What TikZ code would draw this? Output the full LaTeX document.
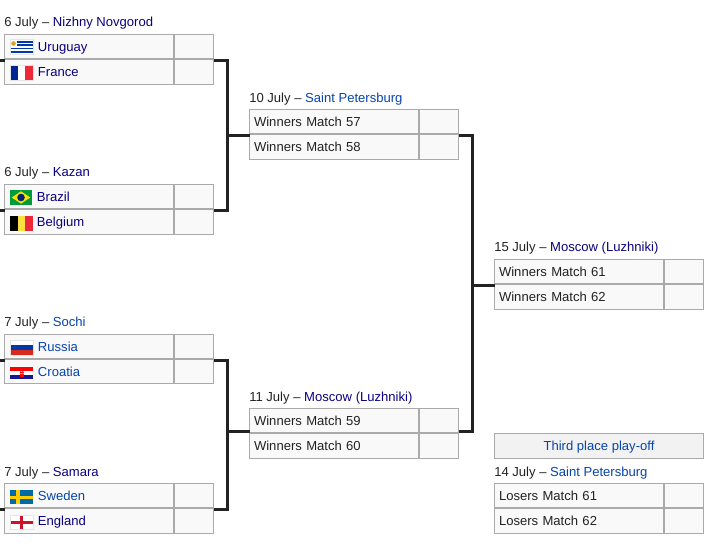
\documentclass[tikz,border=0pt]{standalone}
\usepackage{fontspec}
\setmainfont{Liberation Sans}
\definecolor{vis}{HTML}{0B0080}
\definecolor{lnk}{HTML}{0645AD}
\definecolor{ink}{HTML}{222222}
\definecolor{edge}{HTML}{AAAAAA}
\definecolor{cellbg}{HTML}{F9F9F9}
\definecolor{frblue}{HTML}{002395}
\definecolor{frred}{HTML}{ED2939}
\definecolor{uyblue}{HTML}{0038A8}
\definecolor{uysun}{HTML}{D9A520}
\definecolor{brgreen}{HTML}{009B3A}
\definecolor{bryellow}{HTML}{FEDF00}
\definecolor{brblue}{HTML}{002776}
\definecolor{beyellow}{HTML}{FAE042}
\definecolor{rublue}{HTML}{0039A6}
\definecolor{rured}{HTML}{D52B1E}
\definecolor{hrred}{HTML}{FF0000}
\definecolor{hrblue}{HTML}{171796}
\definecolor{seblue}{HTML}{006AA7}
\definecolor{seyellow}{HTML}{FECC00}
\definecolor{enred}{HTML}{CE1124}
\tikzset{
  cell/.style={draw=edge,line width=0.75pt,fill=#1,anchor=north west,outer sep=0pt,inner xsep=0pt,inner ysep=0pt,text=ink,
    text height=9.5pt,text depth=2.5pt,align=left,font=\fontsize{9.8}{12}\selectfont},
  cell/.default={white},
  datelabel/.style={anchor=base west,inner sep=0pt,text=ink,font=\fontsize{9.8}{12}\selectfont},
  bracket/.style={draw=ink,line width=2.5pt},
  flagedge/.style={draw=black!10,line width=0.75pt}
}
\newlength{\pxu}
% id, x, ytop, ymid, ybot, text offset, top text, bottom text
\newcommand{\matchrows}[8]{%
  \pgfmathsetmacro{\hA}{(#4-#3-1)*0.75}%
  \pgfmathsetmacro{\hB}{(#5-#4)*0.75}%
  \node[cell=cellbg,minimum width=126.75pt,minimum height=\hA pt,text width=126.75pt] (#1a) at (#2+0.5,#3+0.5) {\hspace*{#6\pxu}#7};
  \node[cell=cellbg,minimum width=29.25pt,minimum height=\hA pt] (#1as) at (#2+170.5,#3+0.5) {};
  \node[cell=cellbg,minimum width=126.75pt,minimum height=\hB pt,text width=126.75pt] (#1b) at (#2+0.5,#4+0.5) {\hspace*{#6\pxu}#8};
  \node[cell=cellbg,minimum width=29.25pt,minimum height=\hB pt] (#1bs) at (#2+170.5,#4+0.5) {};
  \coordinate (#1r) at ([yshift=-0.75pt]#1bs.north east);
  \coordinate (#1l) at ([yshift=-0.75pt]#1b.north west);
}
\begin{document}
\begin{tikzpicture}[x=0.75pt,y=-0.75pt]
\setlength{\pxu}{0.75pt}
\useasboundingbox[fill=white] (0,0) rectangle (711,560);
% date labels
\node[datelabel] (d1) at (4,26.5) {6 July – \textcolor{vis}{Nizhny Novgorod}};
\node[datelabel] (d2) at (4,176) {6 July – \textcolor{vis}{Kazan}};
\node[datelabel] (d3) at (4,326) {7 July – \textcolor{lnk}{Sochi}};
\node[datelabel] (d4) at (4,476) {7 July – \textcolor{vis}{Samara}};
\node[datelabel] (d5) at (249,102.5) {10 July – \textcolor{lnk}{Saint Petersburg}};
\node[datelabel] (d6) at (249,401) {11 July – \textcolor{vis}{Moscow (Luzhniki)}};
\node[datelabel] (d7) at (494,251) {15 July – \textcolor{vis}{Moscow (Luzhniki)}};
\node[datelabel] (d8) at (494,476) {14 July – \textcolor{lnk}{Saint Petersburg}};
% match tables
\matchrows{qa}{4}{34}{59}{84}{33.5}{\textcolor{vis}{Uruguay}}{\textcolor{vis}{France}}
\matchrows{qb}{4}{184}{209}{234}{32.5}{\textcolor{vis}{Brazil}}{\textcolor{vis}{Belgium}}
\matchrows{qc}{4}{334}{359}{383}{33.5}{\textcolor{lnk}{Russia}}{\textcolor{lnk}{Croatia}}
\matchrows{qd}{4}{483}{508}{533}{33.5}{\textcolor{lnk}{Sweden}}{\textcolor{vis}{England}}
\matchrows{sa}{249}{109}{134}{159}{4.5}{Winners Match 57}{Winners Match 58}
\matchrows{sb}{249}{408}{433}{458}{4.5}{Winners Match 59}{Winners Match 60}
\matchrows{fi}{494}{259}{284}{309}{4.5}{Winners Match 61}{Winners Match 62}
\matchrows{lo}{494}{483}{508}{533}{4.5}{Losers Match 61}{Losers Match 62}
\node[cell=black!5,minimum width=156.75pt,minimum height=18.75pt,align=center,text=lnk] (third) at (494.5,433.5) {Third place play-off};
% connectors
\coordinate (ja) at (227.5,135.5);
\coordinate (jb) at (227.5,431.5);
\coordinate (jc) at (472.5,285.5);
\coordinate (sbo) at (459,431.5);
\coordinate (sqa) at (0,60);
\coordinate (sqb) at (0,209);
\coordinate (sqc) at (0,360);
\coordinate (sqd) at (0,508);
\draw[bracket] (sqa |- qar) -- (qal);
\draw[bracket] (sqb |- qbr) -- (qbl);
\draw[bracket] (sqc |- qcr) -- (qcl);
\draw[bracket] (sqd |- qdr) -- (qdl);
\draw[bracket] (qar) -| (ja) |- (qbr);
\draw[bracket] (qcr) -| (jb) |- (qdr);
\draw[bracket] (ja) -- (ja -| sal);
\draw[bracket] (jb) -- (jb -| sbl);
\draw[bracket] (sar) -| (jc) |- (sbo);
\draw[bracket] (jc) -- (jc -| fil);
% flags
% Uruguay
\begin{scope}[shift={(10,39.5)}]
\fill[white] (0,0) rectangle (23,15);
\foreach \k in {1,3,5,7}{\fill[uyblue] (0,\k*15/9) rectangle (23,\k*15/9+15/9);}
\fill[white] (0,0) rectangle (7,8.3);
\fill[uysun] (3.5,4) circle (2.3);
\draw[flagedge] (0,0) rectangle (23,15);
\end{scope}
% France
\begin{scope}[shift={(10,65.5)}]
\fill[frblue] (0,0) rectangle (7.7,15);
\fill[white] (7.7,0) rectangle (15.3,15);
\fill[frred] (15.3,0) rectangle (23,15);
\draw[flagedge] (0,0) rectangle (23,15);
\end{scope}
% Brazil
\begin{scope}[shift={(10,190)}]
\fill[brgreen] (0,0) rectangle (22,15);
\fill[bryellow] (1.7,7.5) -- (11,1.3) -- (20.3,7.5) -- (11,13.7) -- cycle;
\fill[brblue] (11,7.5) circle (3.8);
\end{scope}
% Belgium
\begin{scope}[shift={(10,216)}]
\fill[black] (0,0) rectangle (7.7,15);
\fill[beyellow] (7.7,0) rectangle (15.3,15);
\fill[frred] (15.3,0) rectangle (23,15);
\end{scope}
% Russia
\begin{scope}[shift={(10,340)}]
\fill[white] (0,0) rectangle (23,5);
\fill[rublue] (0,5) rectangle (23,10);
\fill[rured] (0,10) rectangle (23,15);
\draw[flagedge] (0,0) rectangle (23,15);
\end{scope}
% Croatia
\begin{scope}[shift={(10,367)}]
\fill[hrred] (0,0) rectangle (23,4);
\fill[white] (0,4) rectangle (23,8);
\fill[hrblue] (0,8) rectangle (23,12);
\fill[hrred] (9.5,3) rectangle (14,9.5);
\fill[white] (10.5,4) rectangle (11.5,5) (12.5,4) rectangle (13.5,5) (10.5,6) rectangle (11.5,7) (12.5,6) rectangle (13.5,7);
\end{scope}
% Sweden
\begin{scope}[shift={(10,490)}]
\fill[seblue] (0,0) rectangle (23,14);
\fill[seyellow] (6,0) rectangle (10,14);
\fill[seyellow] (0,5.5) rectangle (23,8.5);
\end{scope}
% England
\begin{scope}[shift={(10,515)}]
\fill[white] (0,0) rectangle (23,14.5);
\fill[enred] (9.7,0) rectangle (13.3,14.5);
\fill[enred] (0,5.7) rectangle (23,8.8);
\draw[flagedge] (0,0) rectangle (23,14.5);
\end{scope}
\end{tikzpicture}
\end{document}
